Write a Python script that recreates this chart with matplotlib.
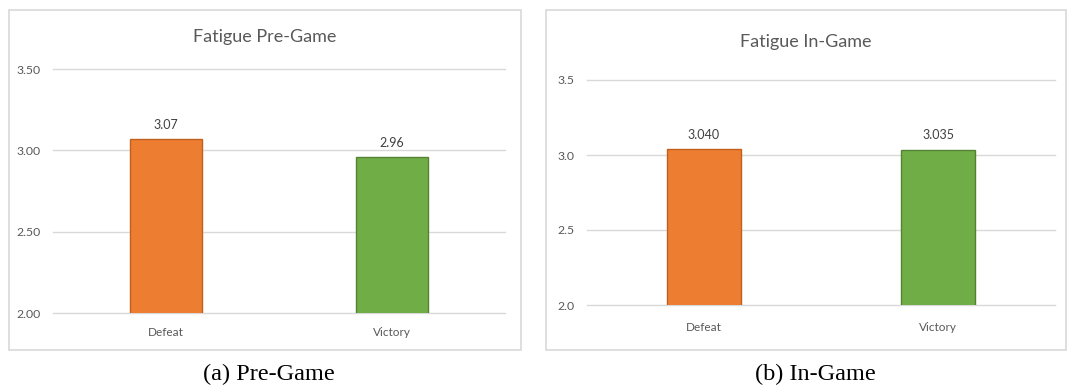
import matplotlib.pyplot as plt
from matplotlib.patches import Rectangle

# data
categories = ["Defeat", "Victory"]
pre_game = [3.07, 2.96]
in_game = [3.040, 3.035]
pre_ticks = [2.00, 2.50, 3.00, 3.50]
in_ticks = [2.0, 2.5, 3.0, 3.5]

W, H = 1067, 387
fig = plt.figure(figsize=(W / 100, H / 100), dpi=100)
fig.patch.set_facecolor("white")

face = ["#ED7D31", "#70AD47"]
edge = ["#C0601F", "#548235"]
grey = "#595959"
ui_font = ["Lato", "DejaVu Sans"]


def px(x0, y0, x1, y1):
    # pixel box (top-left origin) -> figure fraction rect
    return [x0 / W, 1 - y1 / H, (x1 - x0) / W, (y1 - y0) / H]


def panel(frame, box, values, ticks, tfmt, vfmt, title, title_y, caption, cap_x, xpad):
    # chart frame
    fx0, fy0, fx1, fy1 = frame
    fig.patches.append(Rectangle((fx0 / W, 1 - fy1 / H), (fx1 - fx0) / W, (fy1 - fy0) / H,
                                 transform=fig.transFigure, fill=False,
                                 edgecolor="#D9D9D9", linewidth=1.2))
    ax = fig.add_axes(px(*box))
    x = range(len(categories))
    ax.bar(x, values, width=0.32, color=face, edgecolor=edge, linewidth=1.0, zorder=3)
    ax.set_xlim(-0.5, 1.5)
    ax.set_ylim(ticks[0], ticks[-1])
    ax.set_yticks(ticks)
    ax.set_yticklabels([tfmt.format(t) for t in ticks], fontsize=8.8, color=grey, family=ui_font)
    ax.set_xticks(list(x))
    ax.set_xticklabels(categories, fontsize=8.5, color=grey, family=ui_font)
    ax.tick_params(length=0, pad=9)
    ax.tick_params(axis="x", pad=xpad)
    ax.grid(axis="y", color="#D9D9D9", linewidth=1.0, zorder=0)
    for gl in ax.get_ygridlines():
        gl.set_clip_on(False)
    for s in ax.spines.values():
        s.set_visible(False)
    for i, v in enumerate(values):
        ax.annotate(vfmt.format(v), (i, v), xytext=(0, 6), textcoords="offset points",
                    ha="center", va="bottom", fontsize=9, color="#404040", family=ui_font)
    cx = (fx0 + fx1) / 2
    fig.text(cx / W, 1 - title_y / H, title, ha="center", va="center",
             fontsize=13, color=grey, family=ui_font)
    fig.text(cap_x / W, 1 - 374 / H, caption, ha="center", va="center",
             fontsize=17.5, color="black", family=["Liberation Serif", "DejaVu Serif"])
    return ax


panel((9, 10, 521, 350), (53, 69, 505, 313), pre_game, pre_ticks, "{:.2f}", "{:.2f}",
      "Fatigue Pre-Game", 37, "(a) Pre-Game", 269, 10)
panel((546, 10, 1066, 350), (587, 80, 1055, 305), in_game, in_ticks, "{:.1f}", "{:.3f}",
      "Fatigue In-Game", 42, "(b) In-Game", 815, 12)

fig.savefig("out.png", dpi=100)
